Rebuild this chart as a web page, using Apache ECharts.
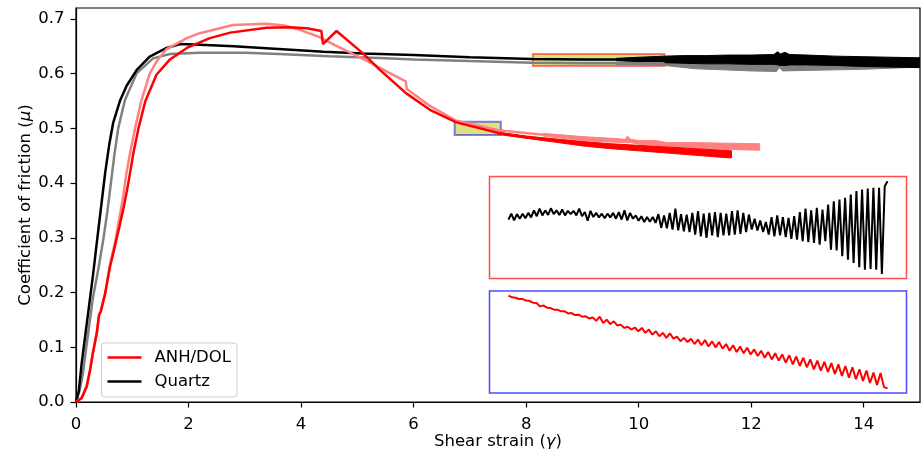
<!DOCTYPE html>
<html>
<head>
<meta charset="utf-8">
<script src="https://cdn.jsdelivr.net/npm/echarts@6/dist/echarts.min.js"></script>
<style>html,body{margin:0;padding:0;background:#fff;}#c{width:921px;height:454px;}</style>
</head>
<body>
<div id="c"></div>
<script>
// ---------- data ----------
const xTicks = [0, 2, 4, 6, 8, 10, 12, 14];
const yTicks = [0, 0.1, 0.2, 0.3, 0.4, 0.5, 0.6, 0.7];

// Quartz (black), strain vs friction
const quartz = [[0,0],[0.05,0.02],[0.1,0.07],[0.2,0.15],[0.3,0.23],[0.38,0.3],[0.45,0.36],[0.52,0.42],[0.59,0.47],[0.66,0.51],[0.78,0.55],[0.9,0.578],[1.08,0.607],[1.31,0.631],[1.61,0.647],[1.85,0.654],[2.2,0.653],[2.8,0.65],[3.6,0.645],[4.4,0.64],[5.1,0.637],[6.0,0.634],[7.0,0.63],[8.1,0.627],[9.0,0.626],[9.8,0.626],[10.46,0.626]];
// Quartz repeat run (grey)
const quartz2 = [[0,0],[0.06,0.02],[0.12,0.05],[0.17,0.09],[0.3,0.19],[0.4,0.245],[0.49,0.3],[0.56,0.35],[0.62,0.4],[0.68,0.45],[0.75,0.5],[0.87,0.552],[1.08,0.601],[1.37,0.628],[1.67,0.636],[2.2,0.638],[3.0,0.638],[3.6,0.636],[4.5,0.632],[5.5,0.628],[6.0,0.626],[7.0,0.623],[8.1,0.62],[9.0,0.619],[10.0,0.619],[10.46,0.619]];
// ANH/DOL (red)
const anhDol = [[0,0],[0.1,0.007],[0.19,0.028],[0.25,0.058],[0.3,0.089],[0.37,0.126],[0.41,0.159],[0.44,0.165],[0.52,0.199],[0.6,0.245],[0.69,0.284],[0.77,0.32],[0.85,0.357],[0.93,0.4],[1.02,0.455],[1.11,0.5],[1.23,0.549],[1.43,0.598],[1.67,0.626],[1.97,0.647],[2.38,0.665],[2.74,0.675],[3.39,0.684],[3.8,0.685],[4.1,0.683],[4.36,0.678],[4.39,0.654],[4.63,0.678],[5.1,0.637],[5.4,0.607],[5.87,0.564],[6.29,0.534],[6.76,0.511],[7.53,0.491],[8.0,0.484],[8.36,0.479]];
// ANH/DOL repeat run (light red)
const anhDol2 = [[0,0],[0.1,0.008],[0.19,0.03],[0.25,0.06],[0.3,0.09],[0.37,0.128],[0.41,0.16],[0.44,0.166],[0.52,0.2],[0.6,0.25],[0.69,0.29],[0.76,0.33],[0.83,0.37],[0.9,0.42],[0.97,0.46],[1.05,0.5],[1.16,0.55],[1.31,0.6],[1.45,0.625],[1.61,0.645],[1.97,0.665],[2.2,0.674],[2.79,0.689],[3.39,0.691],[3.7,0.688],[3.98,0.68],[4.3,0.668],[4.6,0.652],[4.9,0.637],[5.2,0.622],[5.5,0.605],[5.86,0.586],[5.88,0.572],[6.29,0.541],[6.76,0.514],[7.53,0.496],[8.36,0.488]];

// oscillating (stick-slip) sections: [strain, lower envelope, upper envelope]
const quartzBand = [[9.6,0.624,0.628],[10.0,0.622,0.63],[10.46,0.62,0.632],[10.8,0.619,0.633],[11.2,0.618,0.633],[11.6,0.618,0.634],[12.0,0.617,0.634],[12.4,0.617,0.635],[12.47,0.616,0.64],[12.52,0.615,0.636],[12.6,0.615,0.639],[12.68,0.616,0.635],[13.0,0.616,0.634],[13.5,0.615,0.632],[14.0,0.613,0.631],[14.5,0.612,0.63],[15.0,0.611,0.629]];
const quartz2Band = [[9.6,0.617,0.621],[10.46,0.615,0.623],[11.0,0.609,0.625],[11.5,0.607,0.626],[12.0,0.605,0.627],[12.45,0.604,0.627],[12.5,0.611,0.63],[12.56,0.605,0.628],[13.0,0.606,0.626],[13.5,0.607,0.625],[14.0,0.608,0.625],[14.5,0.61,0.625],[15.0,0.612,0.625]];
const anhDolBand = [[7.5,0.489,0.493],[8.0,0.482,0.486],[8.5,0.475,0.481],[9.0,0.468,0.476],[9.5,0.463,0.472],[10.0,0.459,0.469],[10.5,0.455,0.466],[11.0,0.451,0.463],[11.5,0.447,0.46],[11.65,0.446,0.459]];
const anhDol2Band = [[8.3,0.486,0.491],[9.0,0.478,0.485],[9.5,0.475,0.482],[9.76,0.474,0.48],[9.8,0.474,0.486],[9.86,0.474,0.48],[10.0,0.471,0.478],[10.3,0.469,0.478],[10.5,0.467,0.474],[11.0,0.464,0.474],[11.5,0.462,0.473],[12.15,0.46,0.472]];

// zoom windows [xmin, xmax, ymin, ymax]
const zoomQuartz = [8.12, 10.46, 0.614, 0.636];
const zoomAnhDol = [6.73, 7.55, 0.488, 0.512];

// inset 1: Quartz friction in the zoom window (successive samples)
const insetQuartz = [0.6266,0.6280,0.6264,0.6279,0.6268,0.6280,0.6269,0.6282,0.6271,0.6288,0.6274,0.6292,0.6276,0.6288,0.6277,0.6293,0.6279,0.6288,0.6277,0.6290,0.6276,0.6287,0.6279,0.6287,0.6276,0.6292,0.6274,0.6284,0.6263,0.6287,0.6272,0.6282,0.6271,0.6280,0.6269,0.6280,0.6271,0.6282,0.6268,0.6284,0.6266,0.6288,0.6264,0.6282,0.6268,0.6276,0.6263,0.6274,0.6260,0.6272,0.6261,0.6272,0.6258,0.6279,0.6246,0.6276,0.6245,0.6282,0.6242,0.6292,0.6240,0.6279,0.6238,0.6278,0.6236,0.6282,0.6230,0.6286,0.6226,0.6280,0.6222,0.6282,0.6228,0.6284,0.6224,0.6282,0.6228,0.6280,0.6228,0.6286,0.6230,0.6288,0.6232,0.6282,0.6236,0.6278,0.6242,0.6268,0.6240,0.6264,0.6236,0.6260,0.6230,0.6272,0.6226,0.6276,0.6228,0.6272,0.6224,0.6270,0.6220,0.6274,0.6218,0.6284,0.6214,0.6292,0.6212,0.6288,0.6210,0.6294,0.6206,0.6290,0.6214,0.6302,0.6194,0.6310,0.6192,0.6314,0.6178,0.6318,0.6170,0.6326,0.6162,0.6334,0.6152,0.6338,0.6146,0.6340,0.6148,0.6342,0.6146,0.6342,0.6136,0.6346,0.6358];
// inset 2: ANH/DOL friction in the zoom window (successive samples)
const insetAnhDol = [0.5112,0.5108,0.5107,0.5104,0.5104,0.5100,0.5099,0.5095,0.5094,0.5086,0.5088,0.5083,0.5082,0.5078,0.5078,0.5074,0.5074,0.5069,0.5070,0.5065,0.5066,0.5061,0.5062,0.5057,0.5059,0.5051,0.5061,0.5046,0.5054,0.5043,0.5050,0.5040,0.5042,0.5034,0.5037,0.5030,0.5035,0.5026,0.5034,0.5022,0.5030,0.5018,0.5026,0.5014,0.5022,0.5010,0.5021,0.5008,0.5013,0.5002,0.5010,0.5000,0.5008,0.4995,0.5006,0.4992,0.5005,0.4989,0.5002,0.4987,0.5000,0.4984,0.4995,0.4979,0.4992,0.4976,0.4989,0.4973,0.4986,0.4970,0.4982,0.4966,0.4979,0.4962,0.4976,0.4958,0.4973,0.4955,0.4970,0.4950,0.4968,0.4946,0.4965,0.4942,0.4962,0.4939,0.4958,0.4934,0.4955,0.4931,0.4952,0.4928,0.4949,0.4923,0.4946,0.4918,0.4942,0.4914,0.4939,0.4910,0.4934,0.4906,0.4931,0.4901,0.4926,0.4896,0.4925,0.4891,0.4888];

// ---------- chart ----------
const FONT = 'DejaVu Sans';
const FS = 16.5;
const chart = echarts.init(document.getElementById('c'), null, {renderer: 'canvas'});

function band(name, rows, color) {
  return {
    type: 'custom', name: name, coordinateSystem: 'cartesian2d', xAxisIndex: 0, yAxisIndex: 0,
    clip: true, silent: true, data: [[rows[0][0], rows[0][1]]],
    renderItem: function (params, api) {
      const up = rows.map(r => api.coord([r[0], r[2]]));
      const lo = rows.slice().reverse().map(r => api.coord([r[0], r[1]]));
      return {type: 'polygon', shape: {points: up.concat(lo)}, style: {fill: color, stroke: color, lineWidth: 1}};
    }
  };
}
function line(name, data, color, width, xi, yi) {
  return {type: 'line', name: name, data: data, xAxisIndex: xi || 0, yAxisIndex: yi || 0,
    symbol: 'none', showSymbol: false, clip: true, silent: true,
    lineStyle: {color: color, width: width}, itemStyle: {color: color}};
}
function padMin(v) { return v.min - (v.max - v.min) * 0.05; }
function padMax(v) { return v.max + (v.max - v.min) * 0.05; }
const tickFmt = v => v.toFixed(1);
const xTickFmt = v => String(v);

const option = {
  animation: false,
  backgroundColor: '#fff',
  textStyle: {fontFamily: FONT},
  grid: [
    {left: 76, top: 8, right: 1, bottom: 52, show: true, borderColor: '#000', borderWidth: 1.2, backgroundColor: 'transparent', containLabel: false, outerBoundsMode: 'none'},
    {left: 489.5, top: 176.5, width: 417, height: 102, show: true, borderColor: 'rgba(255,0,0,0.7)', borderWidth: 1.5, backgroundColor: '#fff', outerBoundsMode: 'none'},
    {left: 489.5, top: 291, width: 417, height: 102, show: true, borderColor: 'rgba(0,0,255,0.7)', borderWidth: 1.5, backgroundColor: '#fff', outerBoundsMode: 'none'}
  ],
  xAxis: [
    {gridIndex: 0, type: 'value', min: 0, max: 15,
      name: 'Shear strain ({i|γ})', nameLocation: 'middle', nameGap: 31, nameMoveOverlap: false,
      nameTextStyle: {fontFamily: FONT, fontSize: FS, color: '#000', rich: {i: {fontFamily: FONT, fontSize: FS, fontStyle: 'italic', color: '#000'}}},
      axisLine: {show: true, onZero: false, lineStyle: {color: '#000', width: 1.2}},
      axisTick: {show: true, inside: false, length: 5.5, lineStyle: {color: '#000', width: 1.2}, customValues: xTicks},
      axisLabel: {customValues: xTicks, formatter: xTickFmt, margin: 14, fontFamily: FONT, fontSize: FS, color: '#000'},
      splitLine: {show: false}},
    {gridIndex: 1, type: 'value', show: false, min: padMin, max: padMax, splitLine: {show: false}},
    {gridIndex: 2, type: 'value', show: false, min: padMin, max: padMax, splitLine: {show: false}}
  ],
  yAxis: [
    {gridIndex: 0, type: 'value', min: 0, max: 0.72,
      name: 'Coefficient of friction ({i|μ})', nameLocation: 'middle', nameGap: 42, nameMoveOverlap: false,
      nameTextStyle: {fontFamily: FONT, fontSize: FS, color: '#000', rich: {i: {fontFamily: FONT, fontSize: FS, fontStyle: 'italic', color: '#000'}}},
      axisLine: {show: true, onZero: false, lineStyle: {color: '#000', width: 1.2}},
      axisTick: {show: true, inside: false, length: 5.5, lineStyle: {color: '#000', width: 1.2}, customValues: yTicks},
      axisLabel: {customValues: yTicks, formatter: tickFmt, margin: 11.5, fontFamily: FONT, fontSize: FS, color: '#000'},
      splitLine: {show: false}},
    {gridIndex: 1, type: 'value', show: false, scale: true, min: padMin, max: padMax, splitLine: {show: false}},
    {gridIndex: 2, type: 'value', show: false, scale: true, min: padMin, max: padMax, splitLine: {show: false}}
  ],
  legend: {
    data: ['ANH/DOL', 'Quartz'], orient: 'vertical', left: 101.5, top: 343,
    padding: [5, 6, 6, 6], itemGap: 5, itemWidth: 34, itemHeight: 2.5, icon: 'rect',
    backgroundColor: 'rgba(255,255,255,0.8)', borderColor: '#cccccc', borderWidth: 1, borderRadius: 3,
    textStyle: {fontFamily: FONT, fontSize: FS, color: '#000', padding: [0, 0, 0, 8], lineHeight: 19},
    selectedMode: false
  },
  series: [
    line('Quartz repeat', quartz2, '#808080', 2.5),
    band('Quartz repeat band', quartz2Band, '#808080'),
    line('Quartz', quartz, '#000000', 2.5),
    band('Quartz band', quartzBand, '#000000'),
    line('ANH/DOL repeat', anhDol2, '#ff8080', 2.5),
    band('ANH/DOL repeat band', anhDol2Band, '#ff8080'),
    line('ANH/DOL', anhDol, '#ff0000', 2.5),
    band('ANH/DOL band', anhDolBand, '#ff0000'),
    {type: 'line', name: 'zoom windows', data: [], z: 5, silent: true, symbol: 'none',
      markArea: {silent: true, data: [
        [{xAxis: zoomQuartz[0], yAxis: zoomQuartz[3], itemStyle: {color: 'rgba(191,191,0,0.5)', borderColor: 'rgba(255,0,0,0.5)', borderWidth: 2}},
         {xAxis: zoomQuartz[1], yAxis: zoomQuartz[2]}],
        [{xAxis: zoomAnhDol[0], yAxis: zoomAnhDol[3], itemStyle: {color: 'rgba(191,191,0,0.5)', borderColor: 'rgba(0,0,255,0.5)', borderWidth: 2}},
         {xAxis: zoomAnhDol[1], yAxis: zoomAnhDol[2]}]
      ]}},
    line('Quartz inset', insetQuartz.map((v, i) => [i, v]), '#000000', 2, 1, 1),
    line('ANH/DOL inset', insetAnhDol.map((v, i) => [i, v]), '#ff0000', 2, 2, 2)
  ]
};
chart.setOption(option);
</script>
</body>
</html>
